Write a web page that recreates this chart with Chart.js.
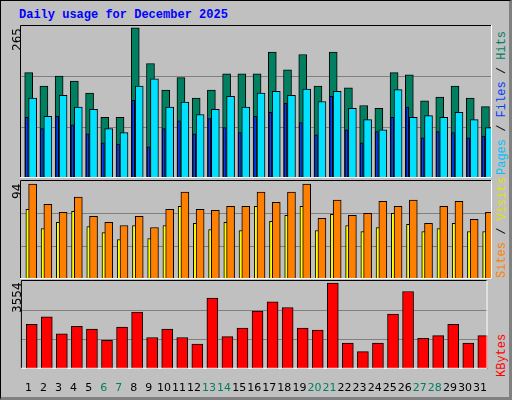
<!DOCTYPE html>
<html><head><meta charset="utf-8">
<script src="https://cdn.jsdelivr.net/npm/chart.js@4"></script>
<style>
body{margin:0;background:#fff}
#wrap{position:absolute;left:0;top:0;background:#c0c0c0;border-left:1px solid #000;border-top:1px solid #000;border-right:3px solid #808080;border-bottom:3px solid #808080;box-sizing:border-box;width:512px;height:400px}
#title{position:absolute;left:18px;top:7px;font:bold 12px "Liberation Mono",monospace;color:#0000ff}
canvas{position:absolute}
.rl{position:absolute;transform-origin:0 0;transform:rotate(-90deg);white-space:nowrap}
.mono{font:12px "Liberation Mono",monospace}
.num{font:12px "DejaVu Sans",sans-serif;color:#000}
</style></head><body>
<div id="wrap">
<div id="title">Daily usage for December 2025</div>
<canvas id="c1" width="472" height="153" style="left:19px;top:24px"></canvas>
<canvas id="c2" width="472" height="99" style="left:19px;top:179px"></canvas>
<canvas id="c3" width="472" height="120" style="left:19px;top:279px"></canvas>
<div class="rl num" style="left:9px;top:50px">265</div>
<div class="rl num" style="left:9px;top:198px">94</div>
<div class="rl num" style="left:9px;top:312px">3554</div>
<div class="rl mono" style="left:494px;top:174px"><span style="color:#00c0ff">Pages</span> / <span style="color:#0040ff">Files</span> / <span style="color:#008060">Hits</span></div>
<div class="rl mono" style="left:494px;top:277px"><span style="color:#ff8000">Sites</span> / <span style="color:#e0e000">Visits</span></div>
<div class="rl mono" style="left:494px;top:376px"><span style="color:#ff0000">KBytes</span></div>
</div>
<script>
const days=[1,2,3,4,5,6,7,8,9,10,11,12,13,14,15,16,17,18,19,20,21,22,23,24,25,26,27,28,29,30,31];
const weekend=[6,7,13,14,20,21,27,28];
const hits=[186,162,180,171,150,107,107,265,202,155,177,141,155,184,184,184,222,191,218,162,222,159,128,123,186,182,136,143,162,141,126];
const files=[141,109,146,125,121,87,80,162,175,125,134,112,121,144,125,150,153,146,157,135,153,123,103,85,156,107,110,107,116,103,89];
const pages=[107,87,109,94,78,62,60,137,55,87,101,78,105,89,80,109,116,132,98,76,144,85,62,82,107,125,71,82,80,71,74];
const sites=[69,50,56,67,52,46,39,53,40,53,72,55,49,56,48,72,57,63,72,48,64,53,47,51,65,54,47,50,55,47,47];
const visits=[94,74,66,81,62,56,53,62,51,69,86,69,68,72,72,86,76,86,94,60,78,63,65,77,72,78,55,72,77,59,66];
const kbytes=[1842,2153,1453,1764,1647,1180,1725,2348,1297,1647,1297,1025,2931,1336,1686,2387,2776,2542,1686,1608,3554,1064,713,1064,2270,3204,1258,1375,1842,1064,1375];

const pts=(arr,off)=>arr.map((v,i)=>({x:days[i]+off,y:v}));
const gridPlugin={id:'gridp',beforeDatasetsDraw(ch){
  const c=ch.ctx,a=ch.chartArea,y=ch.scales.y,o=ch.options.plugins.gridp;
  c.save();c.strokeStyle='#808080';c.lineWidth=1;
  [1,2].forEach(k=>{const py=Math.round(y.getPixelForValue(o.step*k))+0.5;c.beginPath();c.moveTo(a.left,py);c.lineTo(a.right,py);c.stroke();});
  c.restore();},
 afterDraw(ch){const c=ch.ctx,a=ch.chartArea;c.save();c.lineWidth=1;c.strokeStyle='#000';
  c.beginPath();c.moveTo(a.left+0.5,a.bottom);c.lineTo(a.left+0.5,a.top+0.5);c.lineTo(a.right,a.top+0.5);c.stroke();
  c.strokeStyle='#fff';c.beginPath();c.moveTo(a.right-0.5,a.top);c.lineTo(a.right-0.5,a.bottom-0.5);c.lineTo(a.left,a.bottom-0.5);c.stroke();c.restore();}};
function ds(data,color,w){return{data,backgroundColor:color,borderColor:'#000',borderWidth:1,barThickness:w,grouped:false,borderSkipped:false};}
function mk(id,sets,max,showX){
  return new Chart(document.getElementById(id),{type:'bar',data:{datasets:sets},plugins:[gridPlugin],
  options:{responsive:false,animation:false,devicePixelRatio:1,layout:{padding:0},
   plugins:{legend:{display:false},tooltip:{enabled:false},gridp:{step:max/3}},
   scales:{x:{type:'linear',offset:false,min:0.5,max:31.5,display:showX,grid:{display:false},border:{display:false},
     afterBuildTicks:s=>{s.ticks=days.map(d=>({value:d}));},
     ticks:{autoSkip:false,maxRotation:0,padding:5,font:{family:'DejaVu Sans',size:11},
       color:c=>weekend.includes(c.tick.value)?'#008060':'#000',callback:v=>String(v)}},
    y:{display:false,min:0,max:max}}}});
}
mk('c1',[ds(pts(pages,-0.06),'#0040ff',3),ds(pts(files,0.33),'#00e0ff',8),ds(pts(hits,0.07),'#008060',8)],270,false);
mk('c2',[ds(pts(visits,0.33),'#ff8000',8),ds(pts(sites,0.05),'#ffff00',5)],98,false);
mk('c3',[ds(pts(kbytes,0.22),'#ff0000',11)],3680,true);
</script></body></html>
